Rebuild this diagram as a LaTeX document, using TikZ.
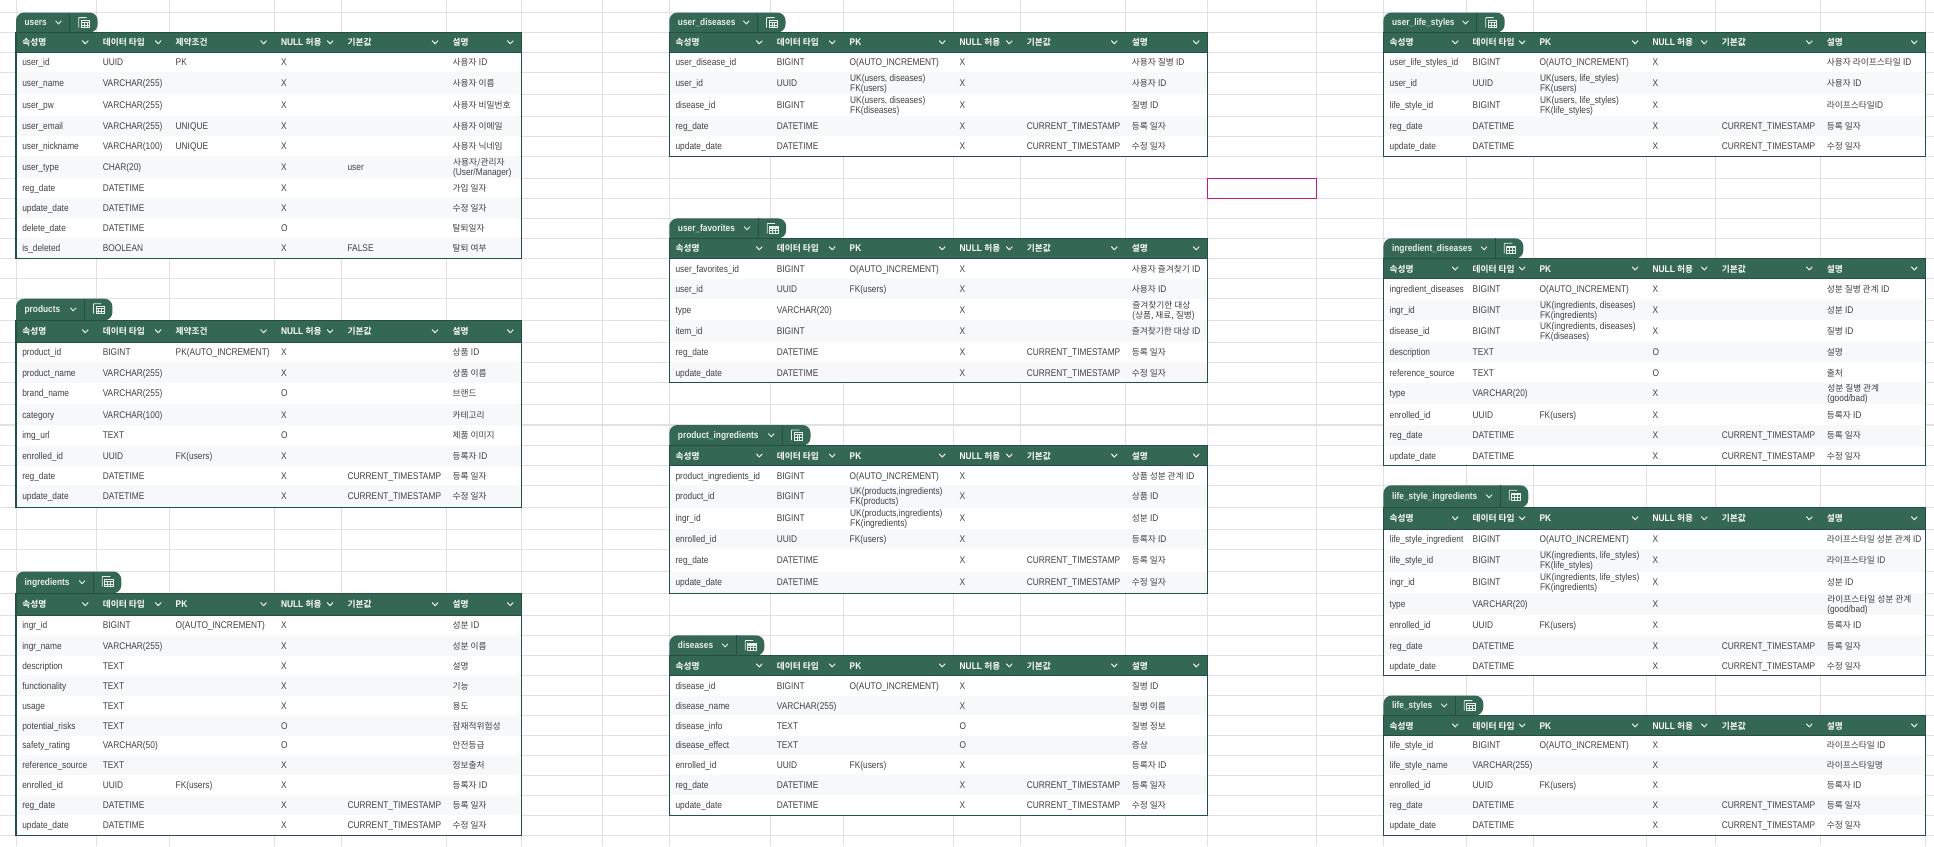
\documentclass[tikz,border=0pt]{standalone}
\usepackage{fontspec}
\setmainfont{Liberation Sans}[FakeStretch=0.86]
\newfontfamily\kor{Noto Sans CJK KR}[BoldFont={Noto Sans CJK KR Bold}]
\newcommand\K[1]{{\kor\fontsize{8.7}{10}\selectfont #1}}
\newcommand\Two[2]{\rlap{\raisebox{5pt}{#1}}\rlap{\raisebox{-5pt}{#2}}}
\definecolor{gridc}{HTML}{E1E1E1}
\definecolor{headc}{HTML}{356854}
\definecolor{borderc}{HTML}{24503F}
\definecolor{bandc}{HTML}{F6F8F9}
\definecolor{celltext}{HTML}{414141}
\definecolor{tabtext}{HTML}{E6EFEA}
\definecolor{selc}{HTML}{C2187F}
\tikzset{
  gridline/.style={draw=gridc,line width=1pt},
  cellt/.style={font=\fontsize{9.7}{10}\selectfont,text=celltext,inner sep=0pt,outer sep=0pt,anchor=west,text height=7pt,text depth=0pt},
  headt/.style={cellt,font=\fontsize{9.7}{10}\selectfont\bfseries,text=white},
  tabt/.style={cellt,font=\fontsize{9.7}{10}\selectfont\bfseries,text=tabtext},
  chev/.style={draw=white,line width=.9pt,line cap=round,line join=round},
  chevt/.style={draw=tabtext,line width=.9pt,line cap=round,line join=round},
  sepl/.style={draw=borderc,line width=.9pt},
  icon/.style={draw=tabtext,line width=.8pt},
  tblb/.style={draw=borderc,line width=1.1pt},
}
\def\RY{{12.6,32.4,52.4,72.3,94.4,116.3,136.3,156.2,178.2,198.1,218.4,238.3,258.5,278.6,298.7,320.3,342.4,362.3,382.7,404.2,425,445.6,465.7,485.3,507.5,529.2,549.4,571.5,593.2,615.3,635.4,655.6,675.4,695.6,715.4,735.6,755.2,775.3,795.4,815.4,835.4}}
\def\colsL{\def\xa{16}\def\xb{96.5}\def\xc{169.4}\def\xd{274.8}\def\xe{341.3}\def\xf{446.3}\def\xg{521.5}}
\def\colsM{\def\xa{669.3}\def\xb{770.5}\def\xc{843.4}\def\xd{953.4}\def\xe{1020.5}\def\xf{1125.5}\def\xg{1207.4}}
\def\colsR{\def\xa{1383.4}\def\xb{1466.4}\def\xc{1533.3}\def\xd{1646.3}\def\xe{1715.5}\def\xf{1820.5}\def\xg{1925.5}}
\newcount\ri
\newif\ifband
% header cell: text at left of column #1, column right edge #2
\newcommand\HC[4]{%
  \node[headt,name=\tn-h#4] at ({#1+6.3},\ymid) {#3};
  \draw[chev] ({#2-14},\ymid-1.6) -- ({#2-11.2},\ymid+1.4) -- ({#2-8.4},\ymid-1.6);
}
% #1 col macro, #2 start row, #3 name, #4 separator offset, #5 third header
\newcommand\Tbl[5]{%
  #1\def\tn{#3}\ri=#2\relax
  \pgfmathsetmacro\ytab{\RY[\the\ri]}\advance\ri by 1
  \pgfmathsetmacro\yhead{\RY[\the\ri]}\advance\ri by 1
  \pgfmathsetmacro\ybody{\RY[\the\ri]}
  \pgfmathsetmacro\sepx{\xa+#4}
  \pgfmathsetmacro\tabr{\sepx+28}
  \pgfmathsetmacro\ymid{(\yhead+\ybody)/2}
  \pgfmathsetmacro\ytm{(\ytab+\yhead)/2}
  \fill[headc] (\xa,\yhead) [rounded corners=8pt] -- (\xa,\ytab) -- (\tabr,\ytab) -- (\tabr,\yhead) [sharp corners] -- cycle;
  \draw[sepl] (\sepx,\ytab) -- (\sepx,\yhead);
  \node[tabt,name=\tn-tab] at ({\xa+8.6},{\ytm-.4}) {#3};
  \draw[chevt] (\sepx-14,\ytm-1.6) -- (\sepx-11.2,\ytm+1.4) -- (\sepx-8.4,\ytm-1.6);
  \pgfmathsetmacro\ix{\sepx+9}
  \pgfmathsetmacro\iy{\ytab+5}
  \draw[icon] (\ix,\iy+10) -- (\ix,\iy+.5) -- ++(.5,-.5) -- (\ix+8,\iy);
  \draw[icon] (\ix+2.5,\iy+2.6) rectangle (\ix+11,\iy+10);
  \draw[icon,line width=1.1pt] (\ix+2.5,\iy+4.6) -- (\ix+11,\iy+4.6);
  \draw[icon,line width=.5pt] (\ix+2.5,\iy+7.3) -- (\ix+11,\iy+7.3) (\ix+5.3,\iy+4.6) -- (\ix+5.3,\iy+10) (\ix+8.2,\iy+4.6) -- (\ix+8.2,\iy+10);
  \fill[headc] (\xa,\yhead) rectangle (\xg,\ybody);
  \HC{\xa}{\xb}{\K{속성명}}{1}
  \HC{\xb}{\xc}{\K{데이터 타입}}{2}
  \HC{\xc}{\xd}{#5}{3}
  \HC{\xd}{\xe}{NULL \K{허용}}{4}
  \HC{\xe}{\xf}{\K{기본값}}{5}
  \HC{\xf}{\xg}{\K{설명}}{6}
  \global\bandfalse
}
\newcommand\R[6]{%
  \pgfmathsetmacro\ya{\RY[\the\ri]}\advance\ri by 1
  \pgfmathsetmacro\yb{\RY[\the\ri]}
  \pgfmathsetmacro\ymid{(\ya+\yb)/2}
  \ifband\fill[bandc] (\xa,\ya) rectangle (\xg,\yb);\global\bandfalse
  \else\fill[white] (\xa,\ya) rectangle (\xg,\yb);\global\bandtrue\fi
  \begin{scope}
    \clip (\xa,\ya) rectangle ({\xb-.5},\yb);
    \node[cellt,name=\tn-\the\ri-1] at ({\xa+6.3},\ymid) {#1};
  \end{scope}
  \node[cellt,name=\tn-\the\ri-2] at ({\xb+6.3},\ymid) {#2};
  \node[cellt,name=\tn-\the\ri-3] at ({\xc+6.3},\ymid) {#3};
  \node[cellt,name=\tn-\the\ri-4] at ({\xd+6.3},\ymid) {#4};
  \node[cellt,name=\tn-\the\ri-5] at ({\xe+6.3},\ymid) {#5};
  \node[cellt,name=\tn-\the\ri-6] at ({\xf+6.3},\ymid) {#6};
}
\newcommand\EndTbl{%
  \draw[tblb] (\xa,\ybody) -- (\xg,\ybody);
  \pgfmathsetmacro\yb{\RY[\the\ri]}
  \draw[tblb] (\xa,\yhead) rectangle (\xg,\yb);
}
\catcode`\_=12
\newcommand\Reg{\R{reg_date}{DATETIME}{}{X}{CURRENT_TIMESTAMP}{\K{등록 일자}}}
\newcommand\Upd{\R{update_date}{DATETIME}{}{X}{CURRENT_TIMESTAMP}{\K{수정 일자}}}
\newcommand\Enr{\R{enrolled_id}{UUID}{FK(users)}{X}{}{\K{등록자} ID}}
\begin{document}
\begin{tikzpicture}[x=1pt,y=-1pt]
\useasboundingbox (0,0) rectangle (1934,846);
\fill[white] (0,0) rectangle (1934,846);
% sheet grid
\foreach \gy in {12.6,32.4,52.4,72.3,94.4,116.3,136.3,156.2,178.2,198.1,218.4,238.3,258.5,278.6,298.7,320.3,342.4,362.3,382.7,404.2,445.6,465.7,485.3,507.5,529.2,549.4,571.5,593.2,615.3,635.4,655.6,675.4,695.6,715.4,735.6,755.2,775.3,795.4,815.4,835.4}
  \draw[gridline] (0,\gy) -- (1934,\gy);
\foreach \gx in {16,96.5,169.4,274.8,341.3,446.3,521.5,602.5,669.3,770.5,843.4,953.4,1020.5,1125.5,1207.4,1316.3,1383.4,1466.4,1533.3,1646.3,1715.5,1820.5,1925.5}
  \draw[gridline] (\gx,0) -- (\gx,846);
\draw[gridline,line width=2.2pt] (0,425) -- (1934,425);
% users
\Tbl{\colsL}{0}{users}{53.7}{\K{제약조건}}
\R{user_id}{UUID}{PK}{X}{}{\K{사용자} ID}
\R{user_name}{VARCHAR(255)}{}{X}{}{\K{사용자 이름}}
\R{user_pw}{VARCHAR(255)}{}{X}{}{\K{사용자 비밀번호}}
\R{user_email}{VARCHAR(255)}{UNIQUE}{X}{}{\K{사용자 이메일}}
\R{user_nickname}{VARCHAR(100)}{UNIQUE}{X}{}{\K{사용자 닉네임}}
\R{user_type}{CHAR(20)}{}{X}{user}{\Two{\K{사용자/관리자}}{(User/Manager)}}
\R{reg_date}{DATETIME}{}{X}{}{\K{가입 일자}}
\R{update_date}{DATETIME}{}{X}{}{\K{수정 일자}}
\R{delete_date}{DATETIME}{}{O}{}{\K{탈퇴일자}}
\R{is_deleted}{BOOLEAN}{}{X}{FALSE}{\K{탈퇴 여부}}
\EndTbl
% products
\Tbl{\colsL}{14}{products}{68.4}{\K{제약조건}}
\R{product_id}{BIGINT}{PK(AUTO_INCREMENT)}{X}{}{\K{상품} ID}
\R{product_name}{VARCHAR(255)}{}{X}{}{\K{상품 이름}}
\R{brand_name}{VARCHAR(255)}{}{O}{}{\K{브랜드}}
\R{category}{VARCHAR(100)}{}{X}{}{\K{카테고리}}
\R{img_url}{TEXT}{}{O}{}{\K{제품 이미지}}
\Enr
\Reg
\Upd
\EndTbl
% ingredients
\Tbl{\colsL}{27}{ingredients}{77.3}{PK}
\R{ingr_id}{BIGINT}{O(AUTO_INCREMENT)}{X}{}{\K{성분} ID}
\R{ingr_name}{VARCHAR(255)}{}{X}{}{\K{성분 이름}}
\R{description}{TEXT}{}{X}{}{\K{설명}}
\R{functionality}{TEXT}{}{X}{}{\K{기능}}
\R{usage}{TEXT}{}{X}{}{\K{용도}}
\R{potential_risks}{TEXT}{}{O}{}{\K{잠재적위험성}}
\R{safety_rating}{VARCHAR(50)}{}{O}{}{\K{안전등급}}
\R{reference_source}{TEXT}{}{X}{}{\K{정보출처}}
\Enr
\Reg
\Upd
\EndTbl
% user_diseases
\Tbl{\colsM}{0}{user_diseases}{88.2}{PK}
\R{user_disease_id}{BIGINT}{O(AUTO_INCREMENT)}{X}{}{\K{사용자 질병} ID}
\R{user_id}{UUID}{\Two{UK(users, diseases)}{FK(users)}}{X}{}{\K{사용자} ID}
\R{disease_id}{BIGINT}{\Two{UK(users, diseases)}{FK(diseases)}}{X}{}{\K{질병} ID}
\Reg
\Upd
\EndTbl
% user_favorites
\Tbl{\colsM}{10}{user_favorites}{88.9}{PK}
\R{user_favorites_id}{BIGINT}{O(AUTO_INCREMENT)}{X}{}{\K{사용자 즐겨찾기} ID}
\R{user_id}{UUID}{FK(users)}{X}{}{\K{사용자} ID}
\R{type}{VARCHAR(20)}{}{X}{}{\Two{\K{즐겨찾기한 대상}}{(\K{상품, 재료, 질병})}}
\R{item_id}{BIGINT}{}{X}{}{\K{즐겨찾기한 대상} ID}
\Reg
\Upd
\EndTbl
% product_ingredients
\Tbl{\colsM}{20}{product_ingredients}{113.2}{PK}
\R{product_ingredients_id}{BIGINT}{O(AUTO_INCREMENT)}{X}{}{\K{상품 성분 관계} ID}
\R{product_id}{BIGINT}{\Two{UK(products,ingredients)}{FK(products)}}{X}{}{\K{상품} ID}
\R{ingr_id}{BIGINT}{\Two{UK(products,ingredients)}{FK(ingredients)}}{X}{}{\K{성분} ID}
\Enr
\Reg
\Upd
\EndTbl
% diseases
\Tbl{\colsM}{30}{diseases}{67}{PK}
\R{disease_id}{BIGINT}{O(AUTO_INCREMENT)}{X}{}{\K{질병} ID}
\R{disease_name}{VARCHAR(255)}{}{X}{}{\K{질병 이름}}
\R{disease_info}{TEXT}{}{O}{}{\K{질병 정보}}
\R{disease_effect}{TEXT}{}{O}{}{\K{증상}}
\Enr
\Reg
\Upd
\EndTbl
% user_life_styles
\Tbl{\colsR}{0}{user_life_styles}{93.3}{PK}
\R{user_life_styles_id}{BIGINT}{O(AUTO_INCREMENT)}{X}{}{\K{사용자 라이프스타일} ID}
\R{user_id}{UUID}{\Two{UK(users, life_styles)}{FK(users)}}{X}{}{\K{사용자} ID}
\R{life_style_id}{BIGINT}{\Two{UK(users, life_styles)}{FK(life_styles)}}{X}{}{\K{라이프스타일}ID}
\Reg
\Upd
\EndTbl
% ingredient_diseases
\Tbl{\colsR}{11}{ingredient_diseases}{111.9}{PK}
\R{ingredient_diseases}{BIGINT}{O(AUTO_INCREMENT)}{X}{}{\K{성분 질병 관계} ID}
\R{ingr_id}{BIGINT}{\Two{UK(ingredients, diseases)}{FK(ingredients)}}{X}{}{\K{성분} ID}
\R{disease_id}{BIGINT}{\Two{UK(ingredients, diseases)}{FK(diseases)}}{X}{}{\K{질병} ID}
\R{description}{TEXT}{}{O}{}{\K{설명}}
\R{reference_source}{TEXT}{}{O}{}{\K{출처}}
\R{type}{VARCHAR(20)}{}{X}{}{\Two{\K{성분 질병 관계}}{(good/bad)}}
\Enr
\Reg
\Upd
\EndTbl
% life_style_ingredients
\Tbl{\colsR}{23}{life_style_ingredients}{116.9}{PK}
\R{life_style_ingredient}{BIGINT}{O(AUTO_INCREMENT)}{X}{}{\K{라이프스타일 성분 관계} ID}
\R{life_style_id}{BIGINT}{\Two{UK(ingredients, life_styles)}{FK(life_styles)}}{X}{}{\K{라이프스타일} ID}
\R{ingr_id}{BIGINT}{\Two{UK(ingredients, life_styles)}{FK(ingredients)}}{X}{}{\K{성분} ID}
\R{type}{VARCHAR(20)}{}{X}{}{\Two{\K{라이프스타일 성분 관계}}{(good/bad)}}
\Enr
\Reg
\Upd
\EndTbl
% life_styles
\Tbl{\colsR}{33}{life_styles}{71.9}{PK}
\R{life_style_id}{BIGINT}{O(AUTO_INCREMENT)}{X}{}{\K{라이프스타일} ID}
\R{life_style_name}{VARCHAR(255)}{}{X}{}{\K{라이프스타일명}}
\Enr
\Reg
\Upd
\EndTbl
% selected cell
\draw[selc,line width=1.1pt] (1207.4,178.2) rectangle (1316.3,198.1);
\end{tikzpicture}
\end{document}
